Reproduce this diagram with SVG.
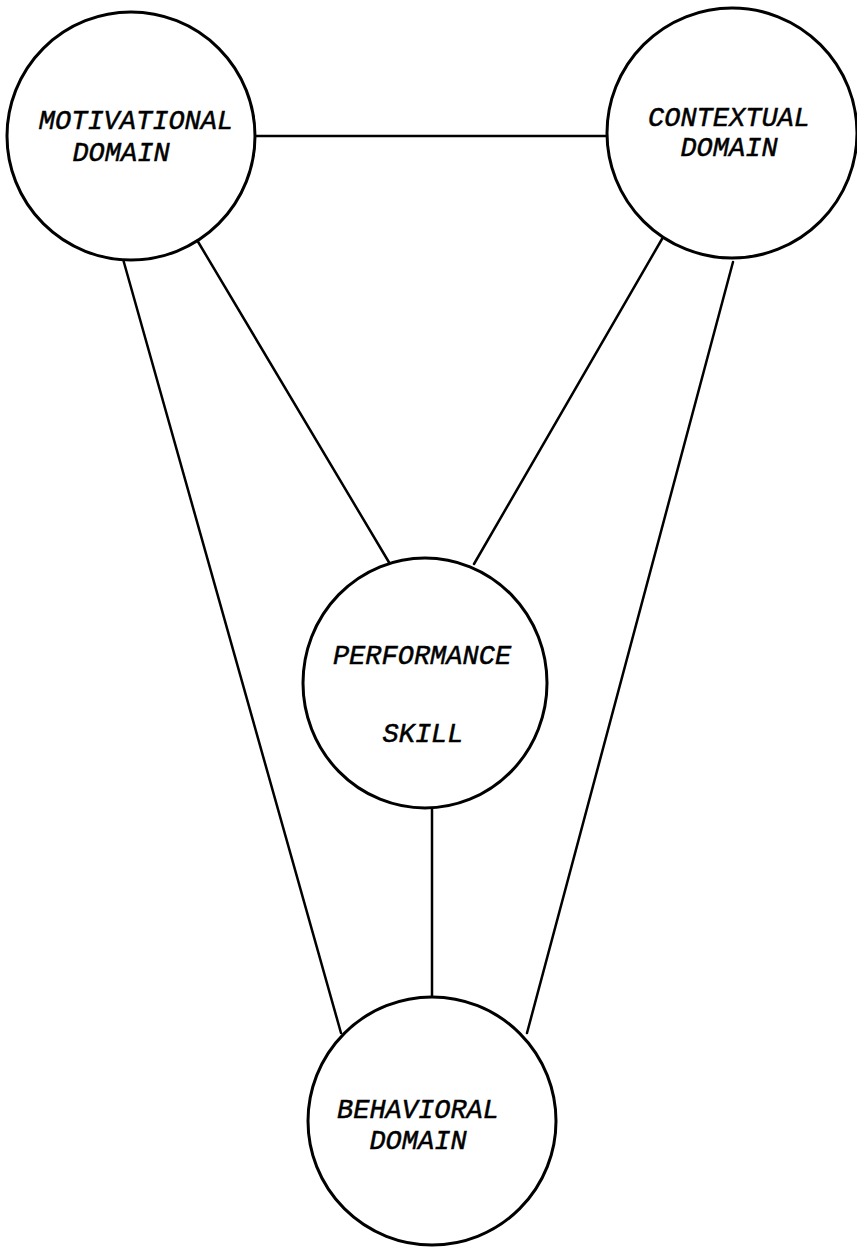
<svg xmlns="http://www.w3.org/2000/svg" width="857" height="1247" viewBox="0 0 857 1247">
<style>
.node{fill:#fff;stroke:#000;stroke-width:3}
.conn line{stroke:#000;stroke-width:2.5;stroke-linecap:round}
.lbl{font-family:"Liberation Mono","Courier New",monospace;font-style:italic;font-size:27px;fill:#000;stroke:#000;stroke-width:0.5;text-anchor:middle}
</style>
<rect width="857" height="1247" fill="#fff"/>
<g id="connectors" class="conn">
<line x1="256" y1="136" x2="607" y2="136"/>
<line x1="197" y1="240" x2="390" y2="564"/>
<line x1="123" y1="259" x2="341" y2="1033"/>
<line x1="662" y1="239" x2="474" y2="564"/>
<line x1="733" y1="262" x2="527" y2="1033"/>
<line x1="432" y1="809" x2="432" y2="997"/>
</g>
<g id="motivational">
<circle class="node" cx="131" cy="136" r="124"/>
<text class="lbl" x="136" y="129">MOTIVATIONAL</text>
<text class="lbl" x="121" y="161">DOMAIN</text>
</g>
<g id="contextual">
<circle class="node" cx="732" cy="133" r="125"/>
<text class="lbl" x="729" y="126">CONTEXTUAL</text>
<text class="lbl" x="729" y="156">DOMAIN</text>
</g>
<g id="performance">
<ellipse class="node" cx="425" cy="683" rx="122" ry="125"/>
<text class="lbl" x="422" y="664">PERFORMANCE</text>
<text class="lbl" x="423" y="742">SKILL</text>
</g>
<g id="behavioral">
<circle class="node" cx="432" cy="1121" r="124"/>
<text class="lbl" x="418" y="1118">BEHAVIORAL</text>
<text class="lbl" x="418" y="1149">DOMAIN</text>
</g>
</svg>
